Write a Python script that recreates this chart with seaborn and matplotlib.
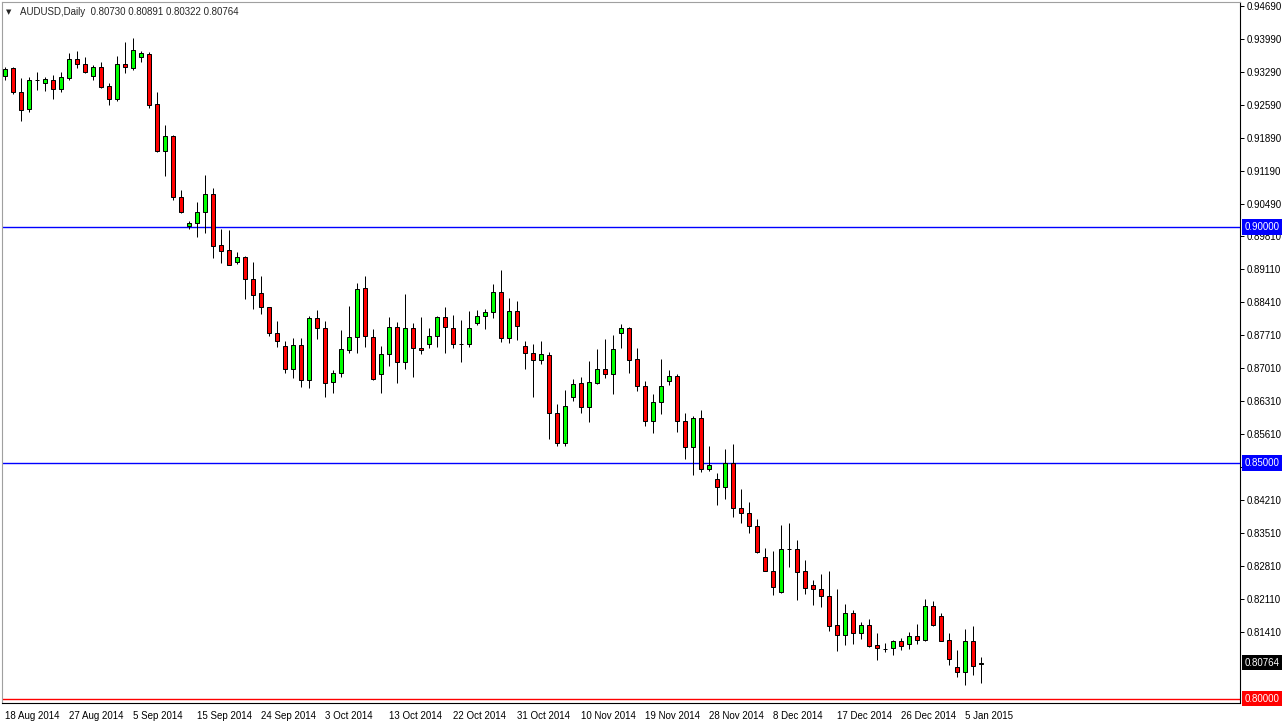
import matplotlib
matplotlib.use("Agg")
import matplotlib.pyplot as plt
import matplotlib.transforms as mtransforms
import seaborn as sns
import pandas as pd
import numpy as np

# ---------------- data ----------------
opens = [.9321, .9337, .9286, .9250, .9313, .9305, .9312, .9292, .9317, .9356,
         .9347, .9321, .9339, .9299, .9271, .9347, .9337, .9360, .9367, .9261,
         .9162, .9193, .9063, .9003, .9009, .9031, .9070, .8962, .8951, .8927,
         .8937, .8889, .8860, .8830, .8775, .8748, .8700, .8749, .8676, .8807,
         .8787, .8671, .8690, .8739, .8766, .8870, .8766, .8688, .8730, .8789,
         .8713, .8785, .8744, .8751, .8770, .8809, .8787, .8753, .8753, .8796,
         .8811, .8819, .8862, .8764, .8822, .8747, .8732, .8718, .8728, .8605,
         .8541, .8639, .8669, .8618, .8670, .8698, .8688, .8775, .8785, .8720,
         .8663, .8589, .8630, .8673, .8684, .8588, .8533, .8594, .8486, .8465,
         .8448, .8499, .8404, .8393, .8367, .8300, .8271, .8225, .8317, .8318,
         .8270, .8241, .8232, .8218, .8155, .8134, .8181, .8138, .8155, .8114,
         .8106, .8107, .8121, .8115, .8132, .8124, .8196, .8174, .8124, .8066,
         .8056, .8121, .80730]
highs = [.9340, .9340, .9316, .9318, .9330, .9318, .9323, .9329, .9370, .9374,
         .9361, .9343, .9351, .9305, .9363, .9393, .9401, .9374, .9372, .9287,
         .9217, .9195, .9079, .9014, .9054, .9110, .9082, .8996, .8994, .8947,
         .8939, .8925, .8896, .8831, .8801, .8759, .8764, .8764, .8811, .8824,
         .8801, .8697, .8782, .8833, .8881, .8896, .8783, .8748, .8809, .8798,
         .8858, .8796, .8809, .8785, .8811, .8830, .8814, .8803, .8822, .8824,
         .8826, .8879, .8909, .8849, .8844, .8758, .8751, .8758, .8735, .8625,
         .8654, .8678, .8681, .8716, .8741, .8763, .8771, .8794, .8789, .8744,
         .8674, .8647, .8720, .8697, .8688, .8606, .8599, .8612, .8536, .8478,
         .8529, .8540, .8444, .8416, .8380, .8320, .8313, .8368, .8372, .8336,
         .8294, .8251, .8264, .8270, .8232, .8201, .8188, .8163, .8169, .8140,
         .8117, .8124, .8128, .8142, .8158, .8211, .8207, .8182, .8140, .8103,
         .8147, .8154, .80891]
lows = [.9312, .9282, .9226, .9245, .9291, .9289, .9271, .9286, .9312, .9338,
        .9327, .9311, .9296, .9260, .9268, .9327, .9333, .9351, .9252, .9160,
        .9109, .9057, .9029, .8997, .8980, .8987, .8934, .8924, .8919, .8921,
        .8847, .8826, .8815, .8770, .8745, .8690, .8679, .8661, .8659, .8762,
        .8639, .8649, .8683, .8732, .8732, .8745, .8676, .8649, .8706, .8670,
        .8700, .8681, .8731, .8744, .8746, .8732, .8744, .8714, .8746, .8792,
        .8784, .8807, .8757, .8754, .8760, .8700, .8640, .8709, .8550, .8536,
        .8536, .8632, .8605, .8587, .8667, .8679, .8645, .8743, .8691, .8653,
        .8579, .8563, .8603, .8664, .8566, .8509, .8474, .8481, .8483, .8410,
        .8423, .8384, .8373, .8352, .8309, .8270, .8220, .8224, .8280, .8209,
        .8222, .8198, .8195, .8143, .8101, .8114, .8116, .8126, .8110, .8082,
        .8099, .8092, .8103, .8105, .8116, .8121, .8154, .8121, .8071, .8046,
        .8029, .8050, .80322]
closes = [.9335, .9286, .9248, .9313, .9313, .9314, .9292, .9318, .9356, .9347,
          .9330, .9339, .9297, .9271, .9347, .9339, .9375, .9370, .9260, .9162,
          .9193, .9063, .9032, .9009, .9032, .9070, .8960, .8950, .8920, .8937,
          .8889, .8857, .8831, .8775, .8758, .8700, .8749, .8676, .8807, .8787,
          .8669, .8690, .8741, .8766, .8868, .8769, .8677, .8730, .8789, .8713,
          .8785, .8743, .8739, .8770, .8809, .8789, .8753, .8753, .8785, .8811,
          .8819, .8862, .8764, .8822, .8791, .8732, .8718, .8730, .8605, .8541,
          .8620, .8667, .8618, .8671, .8698, .8688, .8741, .8785, .8718, .8663,
          .8589, .8630, .8663, .8684, .8588, .8533, .8594, .8486, .8495, .8448,
          .8499, .8404, .8393, .8367, .8310, .8271, .8237, .8317, .8317, .8269,
          .8234, .8232, .8218, .8154, .8134, .8181, .8138, .8155, .8112, .8108,
          .8106, .8121, .8112, .8132, .8124, .8196, .8156, .8123, .8083, .8056,
          .8121, .8068, .80764]

date_labels = ["18 Aug 2014", "27 Aug 2014", "5 Sep 2014", "15 Sep 2014",
               "24 Sep 2014", "3 Oct 2014", "13 Oct 2014", "22 Oct 2014",
               "31 Oct 2014", "10 Nov 2014", "19 Nov 2014", "28 Nov 2014",
               "8 Dec 2014", "17 Dec 2014", "26 Dec 2014", "5 Jan 2015"]
date_label_bars = [0, 8, 16, 24, 32, 40, 48, 56, 64, 72, 80, 88, 96, 104, 112, 120]

price_ticks = [0.94690, 0.93990, 0.93290, 0.92590, 0.91890, 0.91190, 0.90490,
               0.89810, 0.89110, 0.88410, 0.87710, 0.87010, 0.86310, 0.85610,
               0.84910, 0.84210, 0.83510, 0.82810, 0.82110, 0.81410]

hlines_blue = [0.90000, 0.85000]
hline_red = 0.80000
last_price = 0.80764

# ---------------- style ----------------
sns.set_style("white")
plt.rcParams['font.family'] = ['Liberation Sans', 'DejaVu Sans']
FS = 7

W, H = 1286, 722
fig = plt.figure(figsize=(W / 100, H / 100), dpi=100)
ax = fig.add_axes([2 / W, 19 / H, 1238 / W, 701 / H])

df = pd.DataFrame({"o": opens, "h": highs, "l": lows, "c": closes})
df["bar"] = np.arange(len(df))
df["bull"] = df["c"] >= df["o"]
px = 0.72  # one pixel in points

# wicks
ax.vlines(df["bar"], df["l"], df["h"], color="black", lw=px, zorder=2)
# bodies
body_bottom = df[["o", "c"]].min(axis=1)
body_height = (df["c"] - df["o"]).abs()
colors = np.where(df["bull"], "#00FF00", "#FF0000")
ax.bar(df["bar"], body_height, bottom=body_bottom, width=0.5,
       color=colors, edgecolor="black", linewidth=px, zorder=3)

# horizontal lines
for v in hlines_blue:
    ax.axhline(v, color="#0000FF", lw=1.0, zorder=1)
ax.axhline(hline_red, color="#FF0000", lw=1.0, zorder=1)

ax.set_xlim(-0.375, 154.375)
ax.set_ylim(0.79905, 0.94775)

# axes spines
for s in ["left", "top"]:
    ax.spines[s].set_color("#A0A0A0")
    ax.spines[s].set_linewidth(0.8)
for s in ["right", "bottom"]:
    ax.spines[s].set_color("black")
    ax.spines[s].set_linewidth(0.8)

# y ticks on right
ax.yaxis.tick_right()
ax.set_yticks(price_ticks)
ax.set_yticklabels([f"{v:.5f}" for v in price_ticks])
ax.tick_params(axis="y", direction="out", length=3, width=px, pad=2,
               labelsize=FS, colors="black")
# x ticks
ax.set_xticks(date_label_bars)
ax.set_xticklabels(date_labels, ha="left")
ax.tick_params(axis="x", direction="out", length=4, width=px, pad=2,
               labelsize=FS, colors="black")
ax.grid(False)

# price boxes on the right axis
tr = mtransforms.blended_transform_factory(ax.transAxes, ax.transData)
boxes = [(0.90000, "#0000FF"), (0.85000, "#0000FF"),
         (last_price, "#000000"), (hline_red, "#FF0000")]
for v, bg in boxes:
    ax.text(1.0 + 4.5 / 1238, v, f"{v:.5f}", transform=tr, ha="left", va="center",
            fontsize=FS, color="white", zorder=20, clip_on=False,
            bbox=dict(boxstyle="square,pad=0.3", fc=bg, ec="none"))

# title
fig.text(6 / W, 1 - 12 / H, "\u25BC", fontsize=5, ha="left", va="center",
         family=["DejaVu Sans"])
fig.text(20 / W, 1 - 12 / H,
         f"AUDUSD,Daily  {opens[-1]:.5f} {highs[-1]:.5f} {lows[-1]:.5f} {closes[-1]:.5f}",
         fontsize=FS, ha="left", va="center")

fig.savefig("out.png", dpi=100)
